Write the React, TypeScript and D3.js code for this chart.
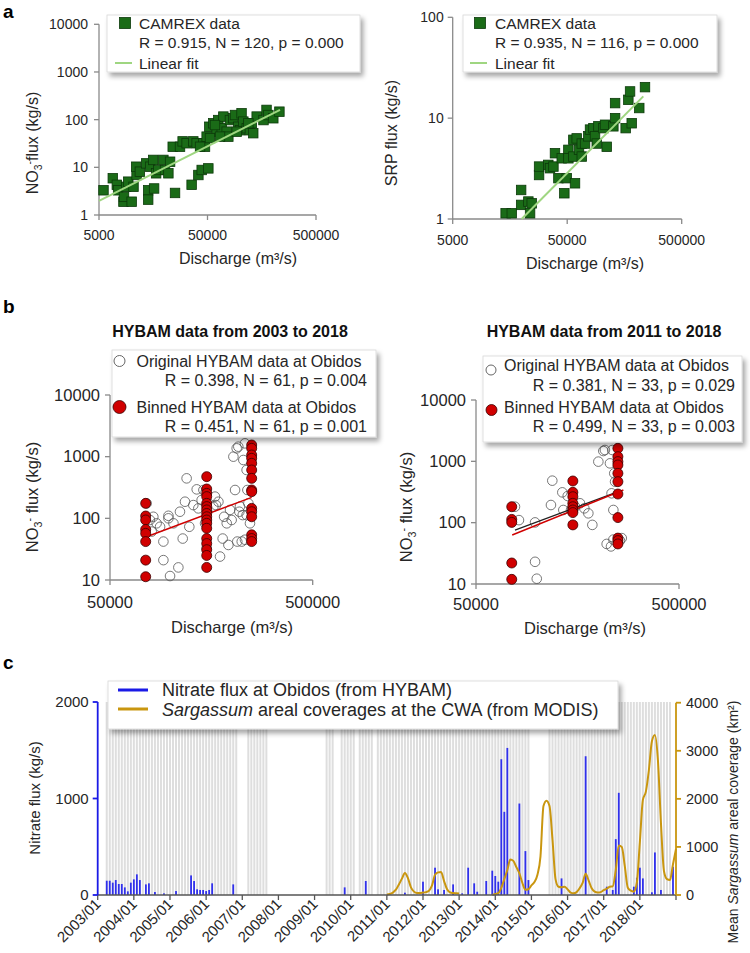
import React from "react";
import * as d3 from "d3";

const FONT = "'Liberation Sans', Arial, Helvetica, sans-serif";

// ---------- Panel a (CAMREX) ----------
const no3Discharge = [5500, 6700, 7300, 7500, 8400, 8500, 8900, 9300, 10000, 10400, 11100, 11000, 11900, 13600, 14200, 14200, 14800, 15800, 16100, 16800, 17600, 19600, 20300, 21800, 22600, 25100, 23900, 27900, 29500, 32100, 35700, 37000, 39700, 41200, 44200, 45800, 49100, 50900, 52000, 56600, 60700, 62900, 67600, 70000, 75100, 77800, 80500, 86500, 89600, 96200, 99700, 103000, 107000, 115000, 123000, 128000, 132000, 142000, 164000, 175000, 182000, 202000, 230000, 47400, 52700, 65200, 42700, 58600, 92800, 119000];
const no3Flux = [3.3, 5.9, 4.3, 3.3, 1.9, 2.4, 3.9, 5.0, 1.9, 3.9, 6.9, 10.3, 8.1, 12.1, 3.3, 2.1, 10.3, 14.3, 3.6, 7.5, 8.8, 14.3, 8.8, 7.5, 13.1, 2.9, 27, 27, 35, 32, 4.3, 35, 32, 6.9, 8.8, 32, 44, 9.5, 71, 84, 56, 98, 66, 116, 56, 44, 98, 107, 125, 71, 60, 136, 91, 66, 60, 84, 52, 116, 98, 160, 125, 107, 147, 27, 41, 44, 27, 77, 56, 84];
const no3Fit = { slope: 1.145, intercept: -3.941, from: 5000, to: 233000 };

const srpDischarge = [14500, 16400, 19800, 19800, 22900, 23700, 24500, 28400, 28400, 34200, 35400, 37900, 39100, 41900, 44800, 49500, 47200, 51200, 51200, 56600, 56600, 58500, 60500, 63400, 67000, 67000, 71600, 76500, 79100, 84700, 87500, 90600, 93600, 103500, 107000, 110700, 126500, 131000, 131000, 162000, 171000, 177000, 183000, 213000, 239000];
const srpFlux = [1.14, 1.14, 1.38, 1.94, 1.49, 1.14, 1.43, 2.73, 3.31, 3.44, 3.19, 3.31, 4.49, 2.54, 4.0, 2.54, 1.8, 4.85, 4.0, 4.16, 6.1, 2.26, 6.3, 4.85, 5.6, 4.16, 5.6, 6.6, 7.7, 7.96, 6.6, 5.6, 8.3, 7.96, 8.6, 5.2, 8.3, 14.1, 10, 7.96, 15.2, 18.4, 8.9, 12.6, 20.3];
const srpFit = { slope: 1.144, intercept: -4.92, from: 20000, to: 231000 };

const aXTicks = [5000, 50000, 500000];
const aLeftYTicks = [1, 10, 100, 1000, 10000];
const aRightYTicks = [1, 10, 100];

// ---------- Panel b (HYBAM) ----------
const binDischargeLevels = [75000, 150000, 250000];
const bin0318Flux = [
  [175, 109, 94, 66, 57, 42, 21, 11.3],
  [474, 299, 254, 225, 175, 155, 137, 120, 106, 94, 83, 69, 47, 39, 31, 25, 16],
  [1546, 1365, 1064, 940, 780, 608, 445, 288, 271, 145, 128, 106, 54, 47, 42],
];
const orig0318Discharge = [75800, 81800, 78700, 80300, 84900, 88300, 91700, 97100, 97100, 91700, 98900, 102800, 108700, 110700, 114200, 117200, 119400, 123100, 128800, 133900, 136400, 141600, 144500, 147200, 150000, 161800, 164800, 166700, 171300, 174500, 179800, 182800, 188300, 191900, 195500, 199100, 203100, 207000, 210800, 214800, 218800, 223300, 225800, 227400, 231600, 236000, 238100, 240800, 236000, 217300, 212300, 245200, 231600];
const orig0318Flux = [175, 106, 94, 61, 83, 73, 42, 100, 110, 21, 11.6, 83, 16, 128, 47, 186, 445, 73, 164, 295, 145, 198, 288, 83, 33, 155, 225, 164, 186, 24, 47, 106, 83, 37, 137, 94, 1000, 288, 1365, 1452, 155, 42, 113, 883, 1644, 608, 288, 175, 113, 128, 42, 83, 45];
const fit0318Binned = { slope: 1.232, intercept: -4.31, from: 75800, to: 250000 };

const bin1118Flux = [
  [182, 113, 101, 22, 11.9],
  [478, 312, 265, 207, 182, 161, 146, 92],
  [1630, 1191, 989, 872, 637, 466, 293, 121, 56, 51, 45],
];
const orig1118Discharge = [77800, 81400, 97700, 99600, 97700, 117000, 118800, 133100, 134600, 141500, 146900, 153800, 162700, 170900, 178800, 187100, 200300, 211900, 215800, 228500, 232700, 234800, 239900, 242100, 220100, 231200, 237500, 255900, 261200, 237500];
const orig1118Flux = [182, 110, 23, 12.2, 101, 194, 484, 312, 161, 272, 161, 182, 207, 171, 142, 92, 989, 1473, 1530, 927, 301, 1530, 637, 466, 45, 41, 53, 51, 56, 161];
const fit1118Original = { slope: 1.228, intercept: -4.126, from: 77800, to: 251000 };
const fit1118Binned = { slope: 1.339, intercept: -4.731, from: 75400, to: 266000 };

const bXTicks = [50000, 500000];
const bYTicks = [10, 100, 1000, 10000];

// ---------- Panel c (time series) ----------
const nitrateDates = ["2003/04", "2003/05", "2003/06", "2003/07", "2003/08", "2003/09", "2003/10", "2003/11", "2003/12", "2004/01", "2004/02", "2004/03", "2004/05", "2004/06", "2004/08", "2004/11", "2005/03", "2005/08", "2005/09", "2005/10", "2005/11", "2005/12", "2006/01", "2006/02", "2006/03", "2006/10", "2009/11", "2010/06", "2011/07", "2012/01", "2012/05", "2012/06", "2012/08", "2012/11", "2013/02", "2013/04", "2013/06", "2013/07", "2013/10", "2013/12", "2014/01", "2014/02", "2014/03", "2014/04", "2014/05", "2014/09", "2014/11", "2014/12", "2015/11", "2016/07", "2017/02", "2017/04", "2017/05", "2017/06", "2017/11", "2017/12", "2018/01", "2018/02", "2018/05", "2018/06", "2018/08", "2018/12"];
const nitrateFlux = [148, 148, 128, 155, 114, 114, 79, 38, 128, 162, 214, 155, 110, 121, 31, 17, 41, 203, 145, 59, 52, 52, 41, 52, 121, 110, 79, 145, 24, 138, 283, 59, 52, 110, 17, 283, 121, 34, 145, 252, 197, 138, 1407, 862, 1524, 948, 455, 155, 172, 1438, 86, 52, 579, 1059, 86, 179, 283, 172, 28, 441, 52, 293];

const sargassumStart = "2011/01";
const sargassumArea: (number | null)[] = [
  10, 20, 50, 110, 220, 340, 460, 350, 160, 70, 40, 40,
  50, 60, 90, 200, 420, 470, 480, 290, 120, 55, 40, 35,
  30, null, null, null, null, null, null, null, null, null, null, 0,
  20, 40, 150, 330, 520, 740, 710, 580, 450, 250, 110, 120,
  200, 270, 420, 800, 1850, 1960, 1850, 1150, 330, 170, 160, 170,
  117, 50, 35, 60, 140, 250, 440, 300, 140, 70, 50, 60,
  100, 130, 172, 180, 520, 1030, 1000, 600, 150, 90, 70, 260,
  1100, 1980, 2150, 2600, 3200, 3330, 2800, 1500, 500, 330, 310, 640,
  960,
];

const sampledPeriods = [
  ["2003/04", "2006/11"], ["2007/03", "2007/09"], ["2009/05", "2009/07"],
  ["2009/10", "2010/02"], ["2010/04", "2010/08"], ["2010/10", "2014/12"],
  ["2015/07", "2018/11"],
];

const yearLabels = ["2003/01", "2004/01", "2005/01", "2006/01", "2007/01", "2008/01", "2009/01", "2010/01", "2011/01", "2012/01", "2013/01", "2014/01", "2015/01", "2016/01", "2017/01", "2018/01"];
const nitrateTicks = [0, 1000, 2000];
const sargassumTicks = [0, 1000, 2000, 3000, 4000];

const monthIndex = (s: string) => {
  const [y, m] = s.split("/").map(Number);
  return (y - 2003) * 12 + (m - 1);
};

const fitLine = (f: { slope: number; intercept: number; from: number; to: number }) =>
  [f.from, f.to].map((q) => [q, Math.pow(10, f.intercept + f.slope * Math.log10(q))] as [number, number]);

const AX = "#8a8a8a";
const TXT = "#262626";

function LogAxes({ x, y, xTicks, yTicks, fs, xLabY, yLabGap }: any) {
  const x0 = x.range()[0], x1 = x.range()[1];
  const y0 = y.range()[0], y1 = y.range()[1];
  return (
    <g>
      <line x1={x0} x2={x1} y1={y0} y2={y0} stroke={AX} strokeWidth={1.3} />
      <line x1={x0} x2={x0} y1={y0} y2={y1} stroke={AX} strokeWidth={1.3} />
      {yTicks.map((t: number) => (
        <g key={"y" + t}>
          <line x1={x0 - 5} x2={x0} y1={y(t)} y2={y(t)} stroke={AX} strokeWidth={1.3} />
          <text x={x0 - yLabGap} y={y(t)} dy="0.35em" textAnchor="end" fontSize={fs} fill={TXT}>{t}</text>
        </g>
      ))}
      {xTicks.map((t: number) => (
        <g key={"x" + t}>
          <line x1={x(t)} x2={x(t)} y1={y0} y2={y0 + 5} stroke={AX} strokeWidth={1.3} />
          <text x={x(t)} y={xLabY} textAnchor="middle" fontSize={fs} fill={TXT}>{t}</text>
        </g>
      ))}
    </g>
  );
}

function DischargeLabel({ x, y, fs }: any) {
  return (
    <text x={x} y={y} textAnchor="middle" fontSize={fs} fill={TXT}>
      Discharge (m³/s)
    </text>
  );
}

function NO3Label({ x, y, fs, space }: any) {
  return (
    <text transform={`translate(${x},${y}) rotate(-90)`} textAnchor="middle" fontSize={fs} fill={TXT}>
      NO<tspan dy={4} fontSize={fs * 0.65}>3</tspan>
      <tspan dy={-9} fontSize={fs * 0.65}>-</tspan>
      <tspan dy={5}>{space ? " flux (kg/s)" : "flux (kg/s)"}</tspan>
    </text>
  );
}

export default function App() {
  const aLx = d3.scaleLog().domain([5000, 500000]).range([99, 316]);
  const aLy = d3.scaleLog().domain([1, 10000]).range([215, 24.3]);
  const aRx = d3.scaleLog().domain([5000, 500000]).range([452.7, 681.7]);
  const aRy = d3.scaleLog().domain([1, 100]).range([219, 17.3]);
  const bLx = d3.scaleLog().domain([50000, 500000]).range([110, 312.7]);
  const bLy = d3.scaleLog().domain([10, 10000]).range([580, 395]);
  const bRx = d3.scaleLog().domain([50000, 500000]).range([476, 679]);
  const bRy = d3.scaleLog().domain([10, 10000]).range([584, 400]);
  const cx = d3.scaleLinear().domain([0, 192]).range([97.7, 676]);
  const cyL = d3.scaleLinear().domain([0, 2000]).range([895, 702]);
  const cyR = d3.scaleLinear().domain([0, 4000]).range([895, 702.7]);

  const sq = 9.5;
  const green = "#1a6b17";
  const greenStroke = "#0c3a0a";
  const fitGreen = "#9fd681";
  const red = "#d00000";

  const lineGen = (xs: any, ys: any) =>
    d3.line<[number, number]>().x((d) => xs(d[0])).y((d) => ys(d[1]));

  const s0 = monthIndex(sargassumStart);
  const sargPts = sargassumArea.map((v, i) => ({ m: s0 + i, v }));
  const sargLine = d3
    .line<{ m: number; v: number | null }>()
    .defined((d) => d.v !== null)
    .x((d) => cx(d.m))
    .y((d) => cyR(d.v as number))
    .curve(d3.curveMonotoneX);

  const grayMonths: number[] = [];
  sampledPeriods.forEach(([a, b]) => {
    for (let m = monthIndex(a); m <= monthIndex(b); m++) grayMonths.push(m);
  });

  const binnedPoints = (levels: number[], flux: number[][]) =>
    levels.flatMap((q, i) => flux[i].map((f) => [q, f] as [number, number]));

  const bin0318 = binnedPoints(binDischargeLevels, bin0318Flux);
  const bin1118 = binnedPoints(binDischargeLevels, bin1118Flux);

  return (
    <svg width={750} height={953} style={{ position: "absolute", left: 0, top: 0, background: "#fff" }} fontFamily={FONT}>
      <defs>
        <filter id="shadow" x="-10%" y="-20%" width="125%" height="160%">
          <feDropShadow dx={3} dy={4} stdDeviation={2.5} floodColor="#000" floodOpacity={0.35} />
        </filter>
      </defs>
      <rect x={0} y={0} width={750} height={953} fill="#fff" />

      {/* ===== Panel a ===== */}
      <text x={3} y={18} fontSize={19} fontWeight="bold" fill="#000">a</text>

      {/* a-left */}
      <LogAxes x={aLx} y={aLy} xTicks={aXTicks} yTicks={aLeftYTicks} fs={14} xLabY={240} yLabGap={11} />
      {no3Discharge.map((q, i) => (
        <rect key={"n" + i} x={aLx(q) - sq / 2} y={aLy(no3Flux[i]) - sq / 2} width={sq} height={sq} fill={green} stroke={greenStroke} strokeWidth={0.8} />
      ))}
      <path d={lineGen(aLx, aLy)(fitLine(no3Fit)) as string} stroke={fitGreen} strokeWidth={2} fill="none" />
      <DischargeLabel x={238} y={264} fs={16} />
      <NO3Label x={38} y={143} fs={16} space={false} />
      <g>
        <rect x={107} y={15} width={253} height={57} fill="#fff" stroke="#d8d8d8" strokeWidth={0.8} filter="url(#shadow)" />
        <rect x={119.5} y={17.5} width={11} height={11} fill={green} stroke={greenStroke} strokeWidth={0.8} />
        <text x={139} y={29} fontSize={15.5} fill={TXT}>CAMREX data</text>
        <text x={139} y={48} fontSize={15.5} fill={TXT}>R = 0.915, N = 120, p = 0.000</text>
        <line x1={115} x2={132} y1={63} y2={63} stroke={fitGreen} strokeWidth={2} />
        <text x={139} y={68.5} fontSize={15.5} fill={TXT}>Linear fit</text>
      </g>

      {/* a-right */}
      <LogAxes x={aRx} y={aRy} xTicks={aXTicks} yTicks={aRightYTicks} fs={14} xLabY={245} yLabGap={9} />
      {srpDischarge.map((q, i) => (
        <rect key={"s" + i} x={aRx(q) - sq / 2} y={aRy(srpFlux[i]) - sq / 2} width={sq} height={sq} fill={green} stroke={greenStroke} strokeWidth={0.8} />
      ))}
      <path d={lineGen(aRx, aRy)(fitLine(srpFit)) as string} stroke={fitGreen} strokeWidth={2} fill="none" />
      <DischargeLabel x={585} y={269} fs={16} />
      <text transform="translate(397,133) rotate(-90)" textAnchor="middle" fontSize={16} fill={TXT}>SRP flux (kg/s)</text>
      <g>
        <rect x={463} y={15} width={254} height={57} fill="#fff" stroke="#d8d8d8" strokeWidth={0.8} filter="url(#shadow)" />
        <rect x={474.5} y={17.5} width={11} height={11} fill={green} stroke={greenStroke} strokeWidth={0.8} />
        <text x={495} y={29} fontSize={15.5} fill={TXT}>CAMREX data</text>
        <text x={495} y={48} fontSize={15.5} fill={TXT}>R = 0.935, N = 116, p = 0.000</text>
        <line x1={470} x2={487} y1={63} y2={63} stroke={fitGreen} strokeWidth={2} />
        <text x={495} y={68.5} fontSize={15.5} fill={TXT}>Linear fit</text>
      </g>

      {/* ===== Panel b ===== */}
      <text x={3} y={313} fontSize={19} fontWeight="bold" fill="#000">b</text>

      {/* b-left */}
      <text x={230} y={337} textAnchor="middle" fontSize={16} fontWeight="bold" fill="#111">HYBAM data from 2003 to 2018</text>
      <LogAxes x={bLx} y={bLy} xTicks={bXTicks} yTicks={bYTicks} fs={16.5} xLabY={608} yLabGap={10} />
      {orig0318Discharge.map((q, i) => (
        <circle key={"o" + i} cx={bLx(q)} cy={bLy(orig0318Flux[i])} r={4.8} fill="none" stroke="#555" strokeWidth={0.8} />
      ))}
      <path d={lineGen(bLx, bLy)(fitLine(fit0318Binned)) as string} stroke={red} strokeWidth={1.5} fill="none" />
      {bin0318.map((d, i) => (
        <circle key={"b" + i} cx={bLx(d[0])} cy={bLy(d[1])} r={5} fill={red} stroke="#3a0000" strokeWidth={0.8} />
      ))}
      <DischargeLabel x={232} y={633} fs={16.5} />
      <NO3Label x={38} y={497} fs={16.5} space={true} />
      <g>
        <rect x={112} y={350} width={264} height={87} fill="#fff" stroke="#d8d8d8" strokeWidth={0.8} filter="url(#shadow)" />
        <circle cx={119.5} cy={361} r={5.5} fill="#fff" stroke="#555" strokeWidth={0.9} />
        <text x={136.5} y={367} fontSize={16} fill={TXT}>Original HYBAM data at Obidos</text>
        <text x={367} y={386} textAnchor="end" fontSize={16} fill={TXT}>R = 0.398, N = 61, p = 0.004</text>
        <circle cx={119.5} cy={407} r={6.5} fill={red} stroke="#3a0000" strokeWidth={0.8} />
        <text x={136.5} y={413} fontSize={16} fill={TXT}>Binned HYBAM data at Obidos</text>
        <text x={367} y={432} textAnchor="end" fontSize={16} fill={TXT}>R = 0.451, N = 61, p = 0.001</text>
      </g>

      {/* b-right */}
      <text x={604} y={337} textAnchor="middle" fontSize={16} fontWeight="bold" fill="#111">HYBAM data from 2011 to 2018</text>
      <LogAxes x={bRx} y={bRy} xTicks={bXTicks} yTicks={bYTicks} fs={16.5} xLabY={610} yLabGap={10} />
      {orig1118Discharge.map((q, i) => (
        <circle key={"p" + i} cx={bRx(q)} cy={bRy(orig1118Flux[i])} r={4.8} fill="none" stroke="#555" strokeWidth={0.8} />
      ))}
      <path d={lineGen(bRx, bRy)(fitLine(fit1118Original)) as string} stroke="#222" strokeWidth={1.3} fill="none" />
      <path d={lineGen(bRx, bRy)(fitLine(fit1118Binned)) as string} stroke={red} strokeWidth={1.5} fill="none" />
      {bin1118.map((d, i) => (
        <circle key={"c" + i} cx={bRx(d[0])} cy={bRy(d[1])} r={5} fill={red} stroke="#3a0000" strokeWidth={0.8} />
      ))}
      <DischargeLabel x={585} y={634} fs={16.5} />
      <NO3Label x={412} y={507} fs={16.5} space={true} />
      <g>
        <rect x={483} y={356} width={259} height={86} fill="#fff" stroke="#d8d8d8" strokeWidth={0.8} filter="url(#shadow)" />
        <circle cx={491} cy={370} r={5} fill="#fff" stroke="#555" strokeWidth={0.9} />
        <text x={504} y={371} fontSize={16} fill={TXT}>Original HYBAM data at Obidos</text>
        <text x={735} y={391} textAnchor="end" fontSize={16} fill={TXT}>R = 0.381, N = 33, p = 0.029</text>
        <circle cx={491.5} cy={410} r={5.5} fill={red} stroke="#3a0000" strokeWidth={0.8} />
        <text x={504} y={412.5} fontSize={16} fill={TXT}>Binned HYBAM data at Obidos</text>
        <text x={735} y={432} textAnchor="end" fontSize={16} fill={TXT}>R = 0.499, N = 33, p = 0.003</text>
      </g>

      {/* ===== Panel c ===== */}
      <text x={3} y={669} fontSize={19} fontWeight="bold" fill="#000">c</text>
      {grayMonths.map((m) => (
        <rect key={"g" + m} x={cx(m) - 1} y={cyL(2000)} width={2} height={cyL(0) - cyL(2000)} fill="#dedede" />
      ))}
      {nitrateDates.map((d, i) => {
        const m = monthIndex(d);
        return (
          <rect key={"nb" + i} x={cx(m) - 0.9} y={cyL(nitrateFlux[i])} width={1.8} height={cyL(0) - cyL(nitrateFlux[i])} fill="#3030ec" />
        );
      })}
      <path d={sargLine(sargPts) as string} stroke="#c9960f" strokeWidth={2} fill="none" />

      {/* bottom axis */}
      <line x1={cx(0)} x2={cx(192)} y1={895} y2={895} stroke="#555" strokeWidth={1.3} />
      {d3.range(0, 193, 12).map((m) => (
        <line key={"xt" + m} x1={cx(m)} x2={cx(m)} y1={895} y2={900} stroke="#555" strokeWidth={1.3} />
      ))}
      {yearLabels.map((l) => {
        const x = cx(monthIndex(l));
        return (
          <text key={l} transform={`translate(${x + 4},${905}) rotate(-45)`} textAnchor="end" fontSize={15} fill={TXT}>{l}</text>
        );
      })}

      {/* left axis */}
      <line x1={cx(0)} x2={cx(0)} y1={cyL(0)} y2={cyL(2000)} stroke="#1a1ae6" strokeWidth={1.8} />
      {nitrateTicks.map((t) => (
        <g key={"lt" + t}>
          <line x1={cx(0) - 5} x2={cx(0)} y1={cyL(t)} y2={cyL(t)} stroke="#1a1ae6" strokeWidth={1.8} />
          <text x={cx(0) - 9} y={cyL(t)} dy="0.35em" textAnchor="end" fontSize={15} fill={TXT}>{t}</text>
        </g>
      ))}
      <text transform={`translate(40,${798}) rotate(-90)`} textAnchor="middle" fontSize={15} fill={TXT}>Nitrate flux (kg/s)</text>

      {/* right axis */}
      <line x1={cx(192)} x2={cx(192)} y1={cyR(0)} y2={cyR(4000)} stroke="#c9960f" strokeWidth={1.8} />
      {sargassumTicks.map((t) => (
        <g key={"rt" + t}>
          <line x1={cx(192)} x2={cx(192) + 5} y1={cyR(t)} y2={cyR(t)} stroke="#c9960f" strokeWidth={1.8} />
          <text x={cx(192) + 10} y={cyR(t)} dy="0.35em" textAnchor="start" fontSize={14.5} fill={TXT}>{t}</text>
        </g>
      ))}
      <text transform={`translate(738,${822}) rotate(-90)`} textAnchor="middle" fontSize={14} fill={TXT}>
        Mean <tspan fontStyle="italic">Sargassum</tspan> areal coverage (km²)
      </text>

      {/* legend c */}
      <g>
        <rect x={108} y={681} width={510} height={48} fill="#fff" stroke="#d8d8d8" strokeWidth={0.8} filter="url(#shadow)" />
        <line x1={118} x2={148} y1={690} y2={690} stroke="#1a1ae6" strokeWidth={3} />
        <text x={162} y={696} fontSize={18} fill={TXT}>Nitrate flux at Obidos (from HYBAM)</text>
        <line x1={118} x2={148} y1={709} y2={709} stroke="#c9960f" strokeWidth={3} />
        <text x={162} y={715.5} fontSize={18} fill={TXT}>
          <tspan fontStyle="italic">Sargassum</tspan> areal coverages at the CWA (from MODIS)
        </text>
      </g>
    </svg>
  );
}
